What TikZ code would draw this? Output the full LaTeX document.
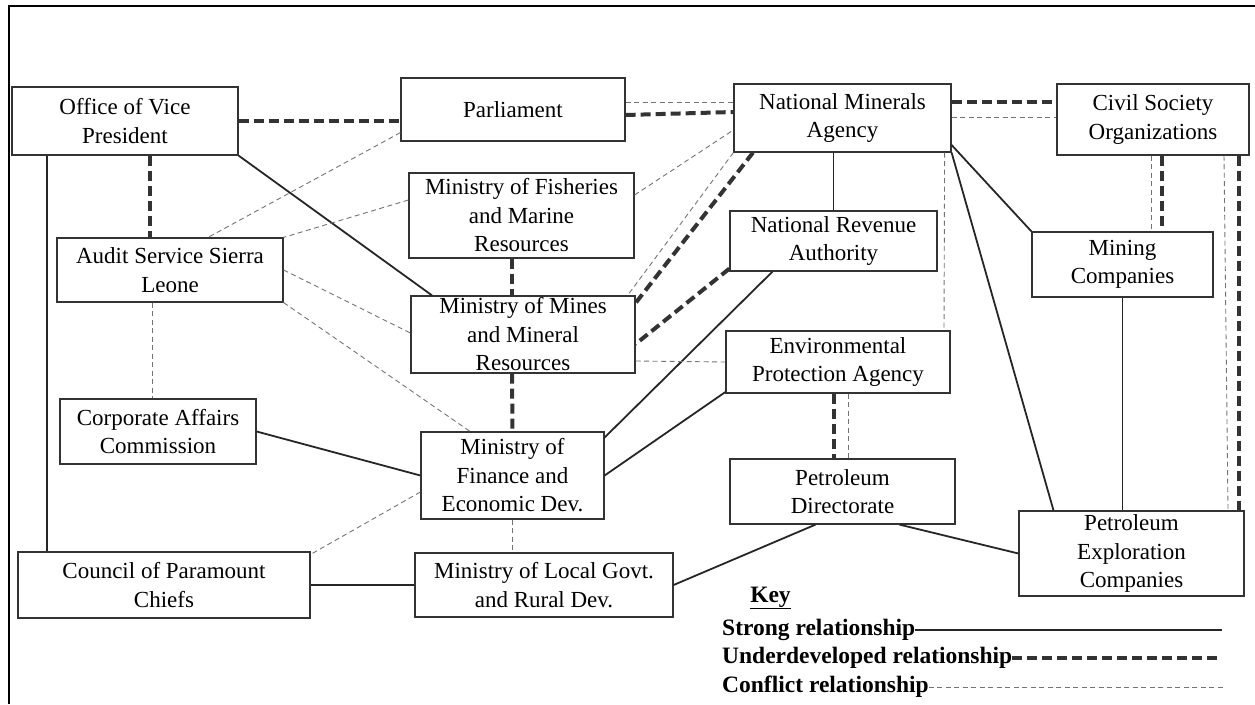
\documentclass[tikz,border=0pt]{standalone}
\usepackage{fontspec}
\setmainfont{Liberation Serif}
\begin{document}
\begin{tikzpicture}[x=1pt, y=-1pt,
	box/.style={draw=black!80, line width=1.2pt, fill=white, align=center, inner sep=0pt, font=\fontsize{23}{28.5}\selectfont},
	boxsize/.style 2 args={minimum width=#1, minimum height=#2},
	strong/.style={draw=black!85, line width=1.8pt},
	undev/.style={draw=black!80, line width=4pt, dash pattern=on 10pt off 5pt},
	conflict/.style={draw=black!55, line width=0.9pt, dash pattern=on 5pt off 3.5pt},
	keytext/.style={anchor=west, inner sep=0pt, font=\fontsize{23.5}{28}\selectfont\bfseries}]

\useasboundingbox (0,0) rectangle (1255,704);
\draw[line width=2pt] (9,704) -- (9,6) -- (1255,6);

% actors
\node[box, boxsize={226}{68}] (ovp) at (125,121) {Office of Vice\\President};
\node[box, boxsize={224}{63}] (parl) at (513,109.5) {Parliament};
\node[box, boxsize={217}{68}] (nma) at (842.5,118) {National Minerals\\Agency};
\node[box, boxsize={192}{71}] (cso) at (1153,119.5) {Civil Society\\Organizations};
\node[box, boxsize={225}{85}] (mfmr) at (521.5,215.5) {Ministry of Fisheries\\and Marine\\Resources};
\node[box, boxsize={226}{64}] (assl) at (170,270) {Audit Service Sierra\\Leone};
\node[box, boxsize={207}{60}] (nra) at (833.5,241) {National Revenue\\Authority};
\node[box, boxsize={181}{65}] (mc) at (1122.5,264.5) {Mining\\Companies};
\node[box, boxsize={224}{77}] (mmmr) at (523,334.5) {Ministry of Mines\\and Mineral\\Resources};
\node[box, boxsize={224}{62}] (epa) at (838,362) {Environmental\\Protection Agency};
\node[box, boxsize={196}{65}] (cac) at (158,431.5) {Corporate Affairs\\Commission};
\node[box, boxsize={183}{87}] (mfed) at (512.5,475.5) {Ministry of\\Finance and\\Economic Dev.};
\node[box, boxsize={225}{65}] (pd) at (842.5,491.5) {Petroleum\\Directorate};
\node[box, boxsize={225}{85}] (pec) at (1131.5,553.5) {Petroleum\\Exploration\\Companies};
\node[box, boxsize={292}{66}] (cpc) at (164,585) {Council of Paramount\\Chiefs};
\node[box, boxsize={258}{64}] (mlg) at (544,585) {Ministry of Local Govt.\\and Rural Dev.};

% strong relationships
\draw[strong] ([xshift=-78pt]ovp.south) -- ([xshift=-117pt]cpc.north);
\draw[strong] (ovp.south east) -- ([xshift=-91pt]mmmr.north);
\draw[strong] ([xshift=-9pt]nma.south) -- (nra.north);
\draw[strong] ([yshift=-27pt]nma.east) -- (mc.north west);
\draw[strong] (nma.south east) -- ([xshift=-78pt]pec.north);
\draw[strong] (mc.south) -- ([xshift=-9pt]pec.north);
\draw[strong] ([xshift=-61pt]nra.south) -- ([yshift=38pt]mfed.east);
\draw[strong] ([yshift=-30pt]epa.west) -- (mfed.east);
\draw[strong] (cac.east) -- (mfed.west);
\draw[strong] (cpc.east) -- (mlg.west);
\draw[strong] (mlg.east) -- ([xshift=-27pt]pd.south);
\draw[strong] ([xshift=57pt]pd.south) -- (pec.west);

% underdeveloped relationships
\draw[undev] (ovp.east) -- (ovp.east -| parl.west);
\draw[undev] ([yshift=-5.5pt]parl.east) -- ([yshift=6pt]nma.west);
\draw[undev] ([yshift=16pt]nma.east) -- ([yshift=17.5pt]cso.west);
\draw[undev] ([xshift=25pt]ovp.south) -- ([xshift=-20pt]assl.north);
\draw[undev] ([xshift=-9.5pt]mfmr.south) -- ([xshift=-11pt]mmmr.north);
\draw[undev] ([xshift=-89.5pt]nma.south) -- ([yshift=31.5pt]mmmr.east);
\draw[undev] ([yshift=3pt]nra.south west) -- ([yshift=-9.5pt]mmmr.east);
\draw[undev] ([xshift=-11pt]mmmr.south) -- (mfed.north);
\draw[undev] ([xshift=-4pt]epa.south) -- ([xshift=-8.5pt]pd.north);
\draw[undev] ([xshift=9pt]cso.south) -- ([xshift=39.5pt]mc.north);
\draw[undev] ([xshift=86pt]cso.south) -- ([xshift=107.5pt]pec.north);

% conflict relationships
\draw[conflict] ([yshift=7.5pt]parl.east) -- ([yshift=16pt]nma.west);
\draw[conflict] ([yshift=1pt]nma.east) -- ([yshift=2.5pt]cso.west);
\draw[conflict] ([yshift=9pt]parl.south west) -- ([xshift=38pt]assl.north);
\draw[conflict] ([yshift=15.5pt]mfmr.west) -- (assl.north east);
\draw[conflict] (assl.east) -- ([yshift=1.5pt]mmmr.west);
\draw[conflict] (assl.south east) -- ([xshift=-42.5pt]mfed.north);
\draw[conflict] ([xshift=-18pt]assl.south) -- ([xshift=-6pt]cac.north);
\draw[conflict] ([yshift=20.5pt]mfmr.east) -- ([yshift=-12pt]nma.west);
\draw[conflict] (nma.south west) -- ([xshift=-8pt]mmmr.north east);
\draw[conflict] ([yshift=-26.5pt]mmmr.east) -- (epa.west);
\draw[conflict] ([xshift=-7pt]nma.south east) -- ([xshift=106pt]epa.north);
\draw[conflict] ([xshift=10pt]epa.south) -- ([xshift=5.5pt]pd.north);
\draw[conflict] (mfed.south) -- ([xshift=-31.5pt]mlg.north);
\draw[conflict] ([yshift=-16.5pt]mfed.west) -- ([yshift=-3pt]cpc.north east);
\draw[conflict] ([xshift=-2pt]cso.south) -- ([xshift=28.5pt]mc.north);
\draw[conflict] ([xshift=71pt]cso.south) -- ([xshift=96.5pt]pec.north);

% key
\node[anchor=base, inner sep=0pt, font=\fontsize{23.5}{28}\selectfont\bfseries] (key) at (770.5,602) {\underline{Key}};
\node[keytext] (strongkey) at (722,630) {Strong relationship};
\node[keytext] (undevkey) at (722,658) {Underdeveloped relationship};
\node[keytext] (conflictkey) at (722,687) {Conflict relationship};
\coordinate (strongend) at (1222,630);
\coordinate (undevend) at (1222,658);
\coordinate (conflictend) at (1225,687);
\draw[strong] (strongkey.east) -- (strongend);
\draw[undev] (undevkey.east) -- (undevend);
\draw[conflict] (conflictkey.east) -- (conflictend);
\end{tikzpicture}
\end{document}
